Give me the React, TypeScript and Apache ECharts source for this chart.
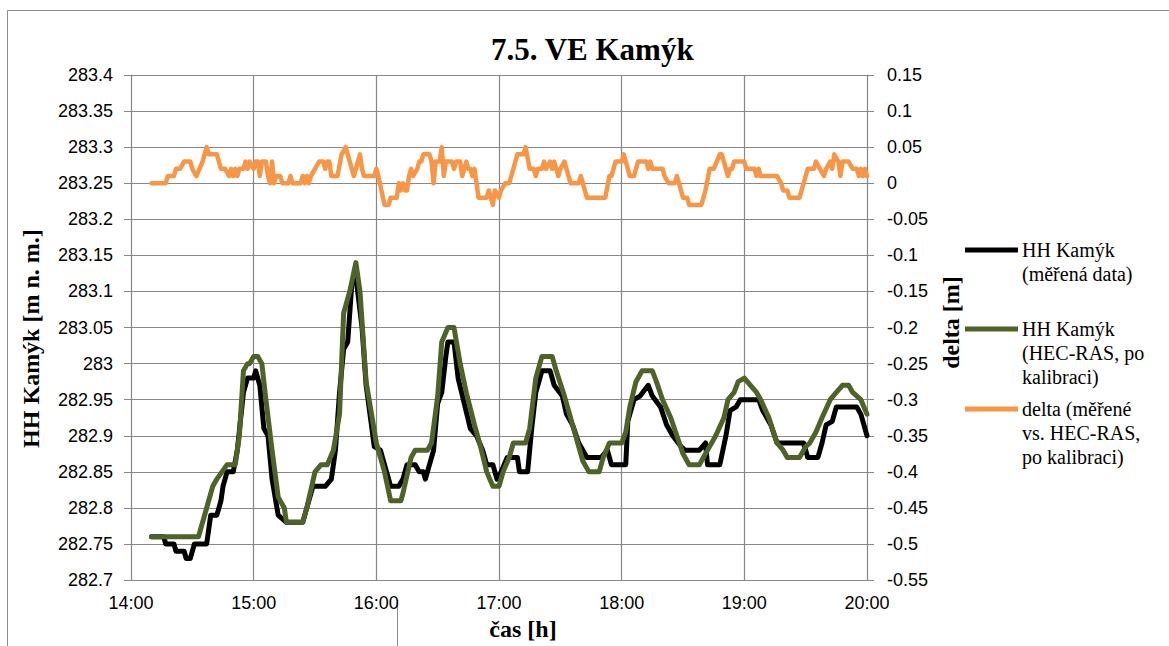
import React, { useEffect, useRef } from "react";
import * as echarts from "echarts";

// Water level at VE Kamýk: measured vs. HEC-RAS (calibrated), plus their difference.
const seriesNames = [
  "HH Kamýk (měřená data)",
  "HH Kamýk (HEC-RAS, po kalibraci)",
  "delta (měřené vs. HEC-RAS, po kalibraci)",
];
const legendLines = [
  ["HH Kamýk", "(měřená data)"],
  ["HH Kamýk", "(HEC-RAS, po", "kalibraci)"],
  ["delta (měřené", "vs. HEC-RAS,", "po kalibraci)"],
];
const hourTicks = [14, 15, 16, 17, 18, 19, 20];

const measured: [string, number][] = [
  ["14:10", 282.76], ["14:16", 282.76], ["14:17", 282.75], ["14:21", 282.75], ["14:22", 282.74],
  ["14:26", 282.74], ["14:27", 282.73], ["14:29", 282.73], ["14:31", 282.75], ["14:37", 282.75],
  ["14:39", 282.79], ["14:42", 282.79], ["14:44", 282.81], ["14:45", 282.83], ["14:47", 282.85],
  ["14:50", 282.85], ["14:52", 282.88], ["14:55", 282.96], ["14:57", 282.98], ["15:00", 282.98],
  ["15:01", 282.99], ["15:03", 282.97], ["15:05", 282.91], ["15:07", 282.9], ["15:09", 282.84],
  ["15:12", 282.79], ["15:16", 282.78], ["15:24", 282.78], ["15:26", 282.8], ["15:29", 282.83],
  ["15:35", 282.83], ["15:38", 282.84], ["15:40", 282.88], ["15:42", 282.96], ["15:44", 283.02],
  ["15:46", 283.03], ["15:48", 283.11], ["15:50", 283.12], ["15:53", 283.05], ["15:55", 282.97],
  ["15:59", 282.885], ["16:02", 282.88], ["16:05", 282.85], ["16:07", 282.83], ["16:11", 282.83],
  ["16:13", 282.84], ["16:15", 282.86], ["16:19", 282.86], ["16:21", 282.85], ["16:23", 282.85],
  ["16:24", 282.84], ["16:26", 282.86], ["16:28", 282.88], ["16:30", 282.945], ["16:32", 282.96],
  ["16:34", 283.01], ["16:35", 283.03], ["16:38", 283.03], ["16:40", 282.98], ["16:43", 282.945],
  ["16:46", 282.91], ["16:49", 282.9], ["16:52", 282.88], ["16:54", 282.86], ["16:57", 282.86],
  ["16:59", 282.84], ["17:01", 282.85], ["17:04", 282.87], ["17:09", 282.87], ["17:10", 282.85],
  ["17:14", 282.85], ["17:16", 282.91], ["17:18", 282.96], ["17:21", 282.99], ["17:25", 282.99],
  ["17:27", 282.97], ["17:31", 282.955], ["17:33", 282.93], ["17:36", 282.915], ["17:39", 282.89],
  ["17:43", 282.87], ["17:50", 282.87], ["17:53", 282.88], ["17:55", 282.86], ["18:02", 282.86],
  ["18:03", 282.92], ["18:06", 282.95], ["18:09", 282.955], ["18:13", 282.97], ["18:15", 282.955],
  ["18:19", 282.94], ["18:22", 282.915], ["18:25", 282.9], ["18:29", 282.885], ["18:31", 282.88],
  ["18:38", 282.88], ["18:41", 282.89], ["18:42", 282.86], ["18:48", 282.86], ["18:51", 282.9],
  ["18:53", 282.935], ["18:56", 282.94], ["18:58", 282.95], ["19:07", 282.95], ["19:09", 282.935],
  ["19:13", 282.915], ["19:16", 282.89], ["19:29", 282.89], ["19:31", 282.87], ["19:36", 282.87],
  ["19:38", 282.89], ["19:40", 282.915], ["19:43", 282.92], ["19:45", 282.94], ["19:55", 282.94],
  ["19:57", 282.93], ["20:00", 282.9],
];

const hecRas: [string, number][] = [
  ["14:10", 282.76], ["14:33", 282.76], ["14:40", 282.83], ["14:42", 282.84], ["14:47", 282.86],
  ["14:51", 282.86], ["14:53", 282.9], ["14:55", 282.99], ["14:57", 283.0], ["14:58", 283.0],
  ["15:00", 283.01], ["15:02", 283.01], ["15:04", 283.0], ["15:06", 282.95], ["15:09", 282.88],
  ["15:12", 282.815], ["15:15", 282.8], ["15:16", 282.78], ["15:24", 282.78], ["15:26", 282.8],
  ["15:30", 282.85], ["15:33", 282.86], ["15:36", 282.86], ["15:39", 282.88], ["15:42", 282.93],
  ["15:44", 283.07], ["15:47", 283.1], ["15:50", 283.14], ["15:52", 283.1], ["15:55", 282.975],
  ["16:00", 282.89], ["16:04", 282.85], ["16:07", 282.81], ["16:12", 282.81], ["16:13", 282.82],
  ["16:17", 282.87], ["16:19", 282.88], ["16:25", 282.88], ["16:27", 282.89], ["16:30", 282.955],
  ["16:32", 283.03], ["16:35", 283.05], ["16:38", 283.05], ["16:41", 283.0], ["16:44", 282.96],
  ["16:48", 282.915], ["16:51", 282.885], ["16:54", 282.85], ["16:57", 282.83], ["17:00", 282.83],
  ["17:02", 282.85], ["17:05", 282.87], ["17:07", 282.89], ["17:13", 282.89], ["17:15", 282.91],
  ["17:18", 282.98], ["17:21", 283.01], ["17:26", 283.01], ["17:28", 282.99], ["17:32", 282.955],
  ["17:36", 282.915], ["17:41", 282.865], ["17:44", 282.85], ["17:49", 282.85], ["17:51", 282.87],
  ["17:54", 282.89], ["18:00", 282.89], ["18:02", 282.905], ["18:04", 282.94], ["18:07", 282.975],
  ["18:10", 282.99], ["18:15", 282.99], ["18:17", 282.975], ["18:20", 282.95], ["18:24", 282.925],
  ["18:27", 282.9], ["18:30", 282.875], ["18:33", 282.86], ["18:38", 282.86], ["18:41", 282.875],
  ["18:43", 282.885], ["18:46", 282.9], ["18:50", 282.925], ["18:52", 282.95], ["18:55", 282.96],
  ["18:57", 282.975], ["19:00", 282.98], ["19:03", 282.97], ["19:06", 282.96], ["19:08", 282.95],
  ["19:12", 282.925], ["19:16", 282.89], ["19:19", 282.88], ["19:21", 282.87], ["19:27", 282.87],
  ["19:30", 282.885], ["19:32", 282.89], ["19:35", 282.905], ["19:38", 282.925], ["19:42", 282.95],
  ["19:45", 282.96], ["19:48", 282.97], ["19:51", 282.97], ["19:53", 282.96], ["19:57", 282.95],
  ["20:00", 282.93],
];

const delta: [string, number][] = [
  ["14:10", 0], ["14:17", 0], ["14:18", 0.01], ["14:21", 0.01], ["14:22", 0.02], ["14:24", 0.02],
  ["14:26", 0.03], ["14:29", 0.03], ["14:30", 0.02], ["14:32", 0.01], ["14:35", 0.03], ["14:37", 0.05],
  ["14:38", 0.04], ["14:42", 0.04], ["14:44", 0.02], ["14:46", 0.02], ["14:48", 0.01], ["14:49", 0.02],
  ["14:50", 0.01], ["14:51", 0.02], ["14:52", 0.01], ["14:53", 0.02], ["14:55", 0.02], ["14:56", 0.03],
  ["14:57", 0.02], ["14:58", 0.03], ["15:00", 0.02], ["15:01", 0.03], ["15:02", 0.03], ["15:03", 0.01],
  ["15:04", 0.03], ["15:06", 0.03], ["15:07", 0.01], ["15:08", 0], ["15:09", 0.03], ["15:10", 0],
  ["15:11", 0.01], ["15:13", 0.01], ["15:14", 0], ["15:17", 0], ["15:18", 0.01], ["15:19", 0],
  ["15:23", 0], ["15:24", 0.01], ["15:25", 0], ["15:26", 0.01], ["15:27", 0], ["15:28", 0.01],
  ["15:30", 0.02], ["15:32", 0.03], ["15:34", 0.03], ["15:35", 0.02], ["15:36", 0.03], ["15:37", 0.03],
  ["15:38", 0.01], ["15:41", 0.01], ["15:43", 0.04], ["15:45", 0.05], ["15:46", 0.04], ["15:48", 0.02],
  ["15:49", 0.01], ["15:50", 0.02], ["15:52", 0.04], ["15:53", 0.02], ["15:54", 0.01], ["15:59", 0.01],
  ["16:00", 0.02], ["16:01", 0.01], ["16:04", -0.03], ["16:06", -0.03], ["16:07", -0.02], ["16:10", -0.02],
  ["16:11", 0], ["16:12", -0.01], ["16:13", 0], ["16:14", -0.01], ["16:15", -0.01], ["16:16", 0.01],
  ["16:17", 0.02], ["16:18", 0.01], ["16:20", 0.02], ["16:21", 0.03], ["16:22", 0.03], ["16:23", 0.04],
  ["16:26", 0.04], ["16:27", 0.03], ["16:28", 0], ["16:29", 0.03], ["16:31", 0.03], ["16:32", 0.05],
  ["16:33", 0.01], ["16:34", 0.03], ["16:37", 0.03], ["16:38", 0.02], ["16:39", 0.03], ["16:41", 0.03],
  ["16:42", 0.01], ["16:44", 0.03], ["16:45", 0.02], ["16:46", 0.02], ["16:47", 0.01], ["16:48", 0.02],
  ["16:49", 0], ["16:50", -0.02], ["16:54", -0.02], ["16:55", -0.01], ["16:56", -0.02], ["16:57", -0.03],
  ["16:58", -0.01], ["17:00", -0.02], ["17:01", -0.01], ["17:03", 0], ["17:05", 0], ["17:06", 0.01],
  ["17:07", 0.02], ["17:09", 0.04], ["17:12", 0.04], ["17:13", 0.05], ["17:15", 0.02], ["17:17", 0.02],
  ["17:18", 0.01], ["17:19", 0.02], ["17:21", 0.02], ["17:22", 0.03], ["17:23", 0.02], ["17:25", 0.03],
  ["17:26", 0.02], ["17:27", 0.03], ["17:29", 0.01], ["17:30", 0.02], ["17:32", 0.03], ["17:33", 0.02],
  ["17:35", 0], ["17:39", 0], ["17:40", 0.01], ["17:41", 0], ["17:43", -0.02], ["17:52", -0.02],
  ["17:54", 0.01], ["17:55", 0.01], ["17:57", 0.03], ["18:00", 0.03], ["18:01", 0.04], ["18:02", 0.03],
  ["18:04", 0.01], ["18:06", 0.01], ["18:08", 0.03], ["18:12", 0.03], ["18:13", 0.02], ["18:14", 0.03],
  ["18:15", 0.02], ["18:20", 0.02], ["18:21", 0.01], ["18:23", 0], ["18:26", 0], ["18:27", 0.01],
  ["18:28", 0], ["18:30", -0.02], ["18:32", -0.02], ["18:33", -0.03], ["18:39", -0.03], ["18:40", -0.02],
  ["18:41", -0.01], ["18:43", 0.02], ["18:45", 0.02], ["18:48", 0.04], ["18:49", 0.04], ["18:50", 0.03],
  ["18:52", 0.01], ["18:53", 0.02], ["18:54", 0.02], ["18:55", 0.03], ["19:00", 0.03], ["19:01", 0.02],
  ["19:05", 0.02], ["19:06", 0.01], ["19:07", 0.02], ["19:08", 0.01], ["19:16", 0.01], ["19:18", 0],
  ["19:19", -0.01], ["19:21", -0.01], ["19:22", -0.02], ["19:27", -0.02], ["19:29", 0], ["19:31", 0.02],
  ["19:34", 0.02], ["19:35", 0.03], ["19:37", 0.02], ["19:39", 0.01], ["19:40", 0.02], ["19:42", 0.03],
  ["19:43", 0.02], ["19:44", 0.04], ["19:46", 0.03], ["19:47", 0.01], ["19:48", 0.03], ["19:51", 0.03],
  ["19:53", 0.02], ["19:55", 0.02], ["19:56", 0.01], ["19:57", 0.02], ["19:58", 0.01], ["19:59", 0.02],
  ["20:00", 0.01],
];

const toHours = (t: string) => {
  const [h, m] = t.split(":").map(Number);
  return h + m / 60;
};
const toPoints = (rows: [string, number][]) => rows.map(([t, v]) => [toHours(t), v]);
const fmtNum = (v: number) => String(Number(v.toFixed(2)));

const GRID_COLOR = "#878787";
const SANS = "Liberation Sans";
const SERIF = "Liberation Serif";

export default function App() {
  const ref = useRef<HTMLDivElement>(null);

  useEffect(() => {
    if (!ref.current) return;
    const chart = echarts.init(ref.current, undefined, { renderer: "svg" });

    const colors = ["#000000", "#4F6228", "#F79646"];
    const widths = [5, 5, 4.5];
    // vertical centre of each legend swatch (first text line sits on it)
    const legendRows = [250, 329, 409];
    const legendLeft = 965;
    const swatchW = 53;
    const swatchH = 5;
    const lineH = 24;

    // one single-line text element per legend line
    const legendTexts = legendLines.flatMap((lines, i) =>
      lines.map((line, k) => ({
        type: "text",
        z: 10,
        style: {
          text: line,
          x: legendLeft + swatchW + 4,
          y: legendRows[i] + k * lineH,
          fill: "#000",
          fontFamily: SERIF,
          fontSize: 20,
          verticalAlign: "middle",
          align: "left",
        },
      }))
    );

    chart.setOption({
      animation: false,
      backgroundColor: "#ffffff",
      title: {
        text: "7.5. VE Kamýk",
        left: 491,
        top: 34,
        padding: 0,
        textStyle: { fontFamily: SERIF, fontSize: 31, fontWeight: "bold", color: "#000" },
      },
      graphic: [
        {
          type: "rect",
          z: -10,
          shape: { x: 7.5, y: 10.5, width: 1300, height: 800 },
          style: { fill: "none", stroke: "#8c8c8c", lineWidth: 1 },
        },
        {
          type: "line",
          z: -10,
          shape: { x1: 397.5, y1: 600, x2: 397.5, y2: 646 },
          style: { stroke: "#8c8c8c", lineWidth: 1 },
        },
        ...legendTexts,
      ],
      legend: seriesNames.map((name, i) => ({
        data: [{ name, icon: "rect" }],
        left: legendLeft,
        top: legendRows[i] - swatchH / 2,
        padding: 0,
        itemWidth: swatchW,
        itemHeight: swatchH,
        selectedMode: false,
        formatter: () => "",
        textStyle: { fontSize: 1 },
      })),
      grid: { left: 131, top: 75, width: 736, height: 508.5, containLabel: false },
      xAxis: {
        type: "value",
        min: hourTicks[0],
        max: hourTicks[hourTicks.length - 1],
        interval: 1,
        name: "čas [h]",
        nameLocation: "middle",
        nameGap: 35,
        nameTextStyle: {
          fontFamily: SERIF,
          fontSize: 24,
          fontWeight: "bold",
          color: "#000",
          padding: [0, 0, 0, 48],
        },
        axisLine: { show: true, lineStyle: { color: GRID_COLOR, width: 1 } },
        axisTick: { show: true, length: 6, lineStyle: { color: GRID_COLOR } },
        axisLabel: {
          margin: 14,
          fontFamily: SANS,
          fontSize: 18,
          color: "#000",
          formatter: (v: number) => `${v}:00`,
        },
        splitLine: { show: true, lineStyle: { color: GRID_COLOR, width: 1.2 } },
      },
      yAxis: [
        {
          type: "value",
          min: 282.7,
          max: 283.4,
          interval: 0.05,
          position: "left",
          name: "HH Kamýk [m n. m.]",
          nameLocation: "middle",
          nameRotate: 90,
          nameGap: 88,
          nameTextStyle: {
            fontFamily: SERIF,
            fontSize: 24,
            fontWeight: "bold",
            color: "#000",
            padding: [0, 22, 0, 0],
          },
          axisLine: { show: true, lineStyle: { color: GRID_COLOR, width: 1 } },
          axisTick: { show: true, length: 7, lineStyle: { color: GRID_COLOR } },
          axisLabel: { margin: 18, fontFamily: SANS, fontSize: 18, color: "#000", formatter: fmtNum },
          splitLine: { show: true, lineStyle: { color: GRID_COLOR, width: 1.2 } },
        },
        {
          type: "value",
          min: -0.55,
          max: 0.15,
          interval: 0.05,
          position: "right",
          name: "delta [m]",
          nameLocation: "middle",
          nameRotate: 90,
          nameGap: 69,
          nameTextStyle: {
            fontFamily: SERIF,
            fontSize: 24,
            fontWeight: "bold",
            color: "#000",
            padding: [0, 0, 0, 10],
          },
          axisLine: { show: true, lineStyle: { color: GRID_COLOR, width: 1 } },
          axisTick: { show: true, length: 7, lineStyle: { color: GRID_COLOR } },
          axisLabel: { margin: 20, fontFamily: SANS, fontSize: 18, color: "#000", formatter: fmtNum },
          splitLine: { show: false },
        },
      ],
      series: [measured, hecRas, delta].map((rows, i) => ({
        name: seriesNames[i],
        type: "line",
        yAxisIndex: i === 2 ? 1 : 0,
        data: toPoints(rows),
        symbol: "none",
        color: colors[i],
        itemStyle: { color: colors[i] },
        lineStyle: { width: widths[i], color: colors[i], cap: "round", join: "round" },
        z: 2 + i,
      })),
    });

    return () => chart.dispose();
  }, []);

  return (
    <div
      ref={ref}
      style={{ position: "fixed", left: 0, top: 0, width: 1169, height: 646 }}
    />
  );
}
